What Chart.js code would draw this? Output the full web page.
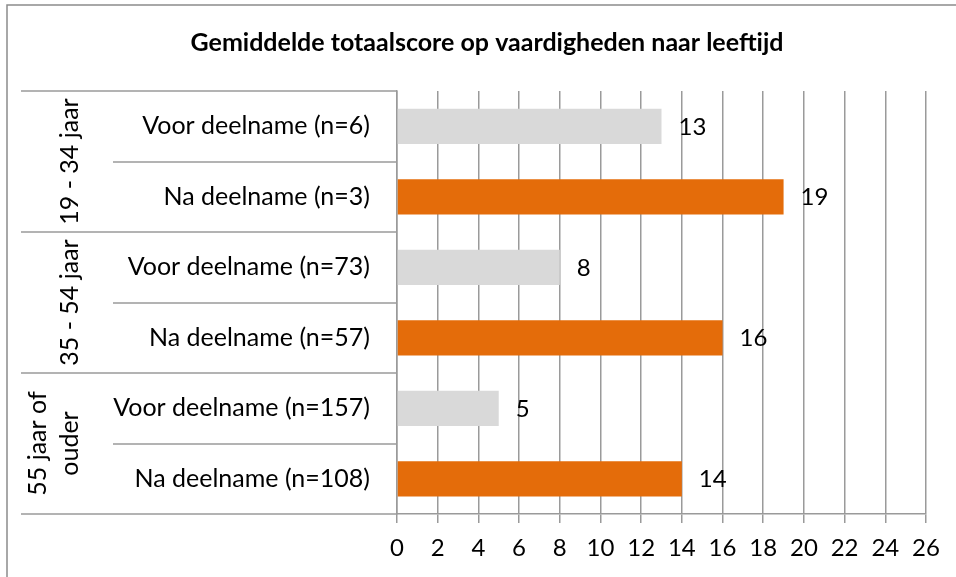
<!DOCTYPE html>
<html>
<head>
<meta charset="utf-8">
<script src="https://cdn.jsdelivr.net/npm/chart.js@4/dist/chart.umd.min.js"></script>
<style>
  html, body { margin: 0; padding: 0; background: #fff; }
  canvas { display: block; }
</style>
</head>
<body>
<canvas id="myChart" width="956" height="577"></canvas>
<script>
// values
let ageGroups = [['19 - 34 jaar'], ['35 - 54 jaar'], ['55 jaar of', 'ouder']];
let voorN = [6, 73, 157];
let naN = [3, 57, 108];
let voorScores = [13, 8, 5];
let naScores = [19, 16, 14];
let xTicks = [0, 2, 4, 6, 8, 10, 12, 14, 16, 18, 20, 22, 24, 26];

let font = 'Lato';
let grey = '#9a9a9a';

// one row per phase per age group
let rowLabels = [];
let voorData = [];
let naData = [];
ageGroups.forEach((g, i) => {
    rowLabels.push('Voor deelname (n=' + voorN[i] + ')');
    voorData.push(voorScores[i]);
    naData.push(null);
    rowLabels.push('Na deelname (n=' + naN[i] + ')');
    voorData.push(null);
    naData.push(naScores[i]);
});

// frame round the chart, group labels and row separators on the left
let decorations = {
    id: 'decorations',
    beforeDraw(chart) {
        let c = chart.ctx;
        c.save();
        c.strokeStyle = '#8c8c8c';
        c.lineWidth = 1.5;
        c.beginPath();
        c.moveTo(7, 577);
        c.lineTo(7, 5);
        c.lineTo(956, 5);
        c.stroke();
        c.restore();
    },
    afterDraw(chart) {
        let c = chart.ctx;
        let y = chart.scales.y;
        let right = chart.chartArea.left;
        let step = y.getPixelForValue(1) - y.getPixelForValue(0);
        c.save();
        c.strokeStyle = grey;
        c.lineWidth = 1.5;
        for (let i = 0; i <= rowLabels.length; i++) {
            let py = Math.round(y.getPixelForValue(0) + (i - 0.5) * step);
            c.beginPath();
            c.moveTo(i % 2 === 0 ? 21 : 113, py);
            c.lineTo(right, py);
            c.stroke();
        }
        c.fillStyle = '#000';
        c.font = '25px ' + font;
        c.textAlign = 'center';
        c.textBaseline = 'middle';
        ageGroups.forEach((lines, g) => {
            let cy = (y.getPixelForValue(g * 2) + y.getPixelForValue(g * 2 + 1)) / 2;
            let cx = 70 - (lines.length - 1) * 16;
            c.save();
            c.translate(cx, cy);
            c.rotate(-Math.PI / 2);
            lines.forEach((t, k) => {
                c.fillText(t, 0, (k - (lines.length - 1) / 2) * 32);
            });
            c.restore();
        });
        // value labels right of each bar
        c.font = '24px ' + font;
        c.textAlign = 'left';
        chart.data.datasets.forEach((ds, d) => {
            chart.getDatasetMeta(d).data.forEach((bar, i) => {
                if (ds.data[i] == null) return;
                c.fillText(String(ds.data[i]), bar.x + 17, bar.y + 1);
            });
        });
        c.restore();
    }
};

let ctx = document.getElementById('myChart').getContext('2d');
let chart = new Chart(ctx, {
    type: 'bar',
    data: {
        labels: rowLabels,
        datasets: [{
            label: 'Voor deelname',
            data: voorData,
            backgroundColor: '#d9d9d9'
        }, {
            label: 'Na deelname',
            data: naData,
            backgroundColor: '#e46c0a'
        }]
    },
    options: {
        indexAxis: 'y',
        responsive: false,
        animation: false,
        devicePixelRatio: 1,
        grouped: false,
        barPercentage: 0.5,
        categoryPercentage: 1.0,
        layout: { padding: { left: 48, right: 30, top: 0, bottom: 0 } },
        plugins: {
            legend: { display: false },
            tooltip: { enabled: false },
            title: {
                display: true,
                text: 'Gemiddelde totaalscore op vaardigheden naar leeftijd',
                color: '#000',
                font: { family: font, size: 25, weight: 'bold' },
                padding: { top: 28, bottom: 33 }
            }
        },
        scales: {
            x: {
                min: 0,
                max: 26,
                afterBuildTicks: s => { s.ticks = xTicks.map(v => ({ value: v })); },
                afterFit: s => { s.height = 63; },
                ticks: {
                    color: '#000',
                    font: { family: font, size: 24 },
                    padding: 11,
                    maxRotation: 0
                },
                grid: { color: grey, lineWidth: 1.5, tickLength: 9 },
                border: { color: grey, width: 1.5 }
            },
            y: {
                afterFit: s => { s.width = 349; },
                ticks: {
                    color: '#000',
                    font: { family: font, size: 25 },
                    padding: 27
                },
                grid: { display: false, drawTicks: false },
                border: { display: true, color: grey, width: 1.5 }
            }
        }
    },
    plugins: [decorations]
});
</script>
</body>
</html>
